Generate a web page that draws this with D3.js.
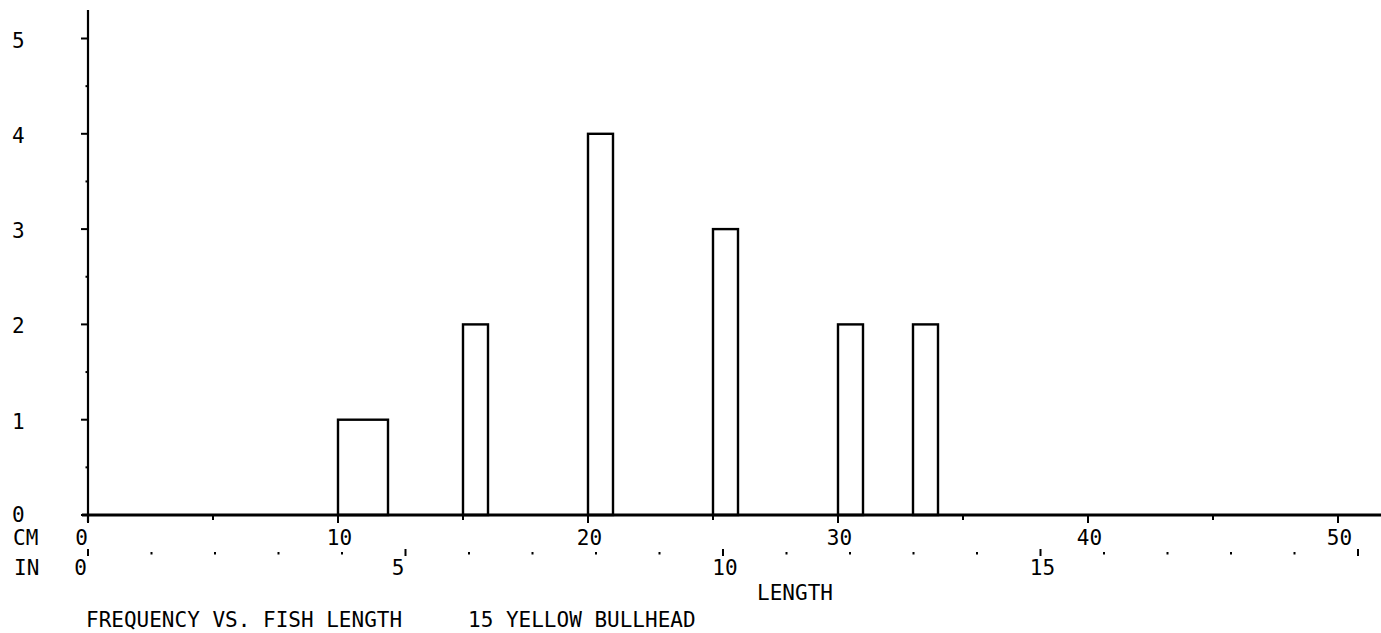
<!DOCTYPE html>
<html>
<head>
<meta charset="utf-8">
<script src="https://cdn.jsdelivr.net/npm/d3@7"></script>
<style>
  html, body { margin: 0; padding: 0; background: #fff; }
  svg { display: block; }
  text { font-family: "DejaVu Sans Mono", "Liberation Mono", monospace; font-size: 21px; fill: #000; }
</style>
</head>
<body>
<svg id="chart" width="1381" height="633"></svg>
<script>
// ---- data ----
const binStart = [10, 15, 20, 25, 30, 33];   // cm
const binEnd   = [12, 16, 21, 26, 31, 34];   // cm
const counts   = [1, 2, 4, 3, 2, 2];
const yTicks   = [0, 1, 2, 3, 4, 5];
const yMinor   = [0.5, 1.5, 2.5, 3.5, 4.5];
const cmTicks  = [0, 5, 10, 15, 20, 25, 30, 35, 40, 45, 50];
const cmLabels = [0, 10, 20, 30, 40, 50];
const inTicks  = [0, 1, 2, 3, 4, 5, 6, 7, 8, 9, 10, 11, 12, 13, 14, 15, 16, 17, 18, 19, 20];
const inLabels = [0, 5, 10, 15];
const titleLeft  = "FREQUENCY VS. FISH LENGTH";
const titleRight = "15 YELLOW BULLHEAD";
const xTitle = "LENGTH";

const svg = d3.select("#chart");
svg.append("rect").attr("width", 1381).attr("height", 633).attr("fill", "#fff");

const x = d3.scaleLinear().domain([0, 50]).range([88, 1338]);
const y = d3.scaleLinear().domain([0, 5]).range([515, 38.5]);
const CM_PER_IN = 2.54;

// bars (outlined)
svg.append("g").selectAll("rect").data(counts).join("rect")
  .attr("x", (d, i) => x(binStart[i]))
  .attr("y", d => y(d))
  .attr("width", (d, i) => x(binEnd[i]) - x(binStart[i]))
  .attr("height", d => y(0) - y(d))
  .attr("fill", "none")
  .attr("stroke", "#000")
  .attr("stroke-width", 2.4);

// y axis
svg.append("line").attr("x1", 88).attr("x2", 88).attr("y1", 10).attr("y2", 522)
  .attr("stroke", "#000").attr("stroke-width", 2.2);
svg.append("g").selectAll("line").data(yTicks).join("line")
  .attr("x1", 81).attr("x2", 88).attr("y1", d => y(d)).attr("y2", d => y(d))
  .attr("stroke", "#000").attr("stroke-width", 2);
svg.append("g").selectAll("rect").data(yMinor).join("rect")
  .attr("x", 85.5).attr("y", d => y(d) - 1).attr("width", 2.5).attr("height", 2)
  .attr("fill", "#000");
svg.append("g").selectAll("text").data(yTicks).join("text")
  .attr("x", 12).attr("y", d => y(d) + (d === 0 ? 7 : 9))
  .text(d => d);

// x axis
svg.append("line").attr("x1", 82).attr("x2", 1381).attr("y1", y(0)).attr("y2", y(0))
  .attr("stroke", "#000").attr("stroke-width", 3);
svg.append("g").selectAll("line").data(cmTicks).join("line")
  .attr("x1", d => x(d)).attr("x2", d => x(d))
  .attr("y1", y(0)).attr("y2", d => y(0) + (d % 10 === 0 ? 8 : 5))
  .attr("stroke", "#000").attr("stroke-width", 2);

// CM labels
svg.append("text").attr("x", 13).attr("y", 545).text("CM");
svg.append("g").selectAll("text").data(cmLabels).join("text")
  .attr("x", d => d < 10 ? x(d) : x(d) + 1.5)
  .attr("y", 545)
  .attr("text-anchor", d => d < 10 ? "end" : "middle")
  .text(d => d);

// IN ticks (dots) and labels
svg.append("text").attr("x", 14).attr("y", 575).text("IN");
svg.append("g").selectAll("rect").data(inTicks).join("rect")
  .attr("x", d => x(d * CM_PER_IN) - 1)
  .attr("y", d => d % 5 === 0 ? 549 : 552)
  .attr("width", 2)
  .attr("height", d => d % 5 === 0 ? 7 : 2.5)
  .attr("fill", "#000");
svg.append("g").selectAll("text").data(inLabels).join("text")
  .attr("x", d => d < 10 ? x(d * CM_PER_IN) - 1 : x(d * CM_PER_IN) + 2)
  .attr("y", 575)
  .attr("text-anchor", d => d < 10 ? "end" : "middle")
  .text(d => d);

// titles
svg.append("text").attr("x", 795).attr("y", 600).attr("text-anchor", "middle").text(xTitle);
svg.append("text").attr("x", 86).attr("y", 627).text(titleLeft);
svg.append("text").attr("x", 468).attr("y", 627).text(titleRight);
</script>
</body>
</html>
